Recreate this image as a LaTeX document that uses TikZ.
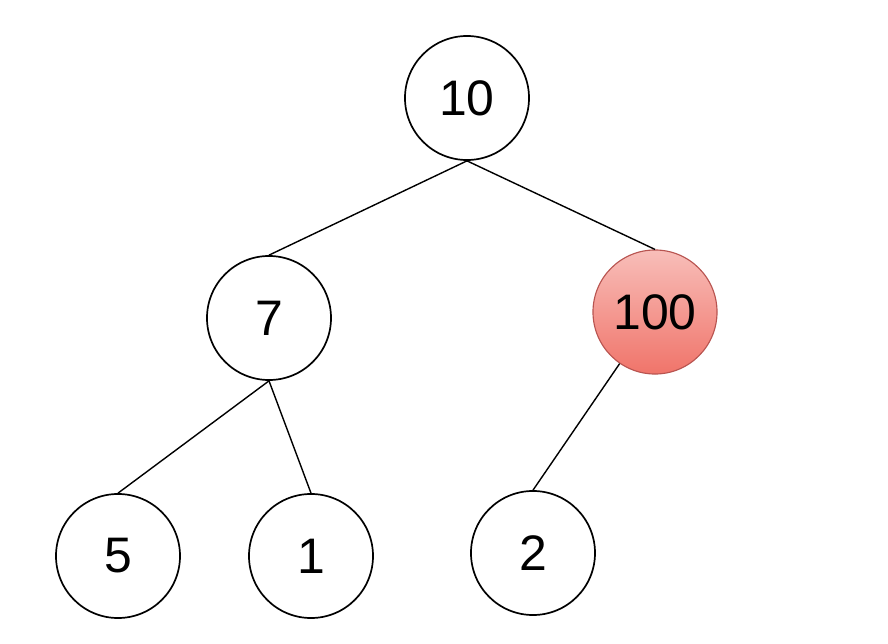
\documentclass[tikz,border=0pt]{standalone}
\usepackage{fontspec}
\setmainfont{Liberation Sans}
\usepackage{xcolor}
\usepackage{tikz}
\usetikzlibrary{positioning}

\definecolor{hottop}{RGB}{248,190,185}
\definecolor{hotbot}{RGB}{240,116,106}
\definecolor{hotline}{RGB}{184,84,80}

\begin{document}
\begin{tikzpicture}[x=0.025cm,y=-0.025cm,
    key/.style={circle,draw,line width=1.2pt,minimum size=3.1cm,inner sep=0pt,
      font=\fontsize{35.5}{40}\selectfont},
    hot/.style={key,draw=hotline,line width=0.8pt,top color=hottop,bottom color=hotbot},
    edge/.style={line width=1pt}
  ]
    \useasboundingbox (0,0) rectangle (888,644);
    \node[key] (r) at (467,98) {10};
    \node[key] (l) at (269,318) {7};
    \node[hot] (h) at (655,312) {100};
    \node[key] (ll) at (118,556) {5};
    \node[key] (lr) at (311,556) {1};
    \node[key] (hl) at (533,553) {2};
    \draw[edge] (r.south) -- (l.north);
    \draw[edge] (r.south) -- (h.north);
    \draw[edge] (l.south) -- (ll.north);
    \draw[edge] (l.south) -- (lr.north);
    \draw[edge] (h) -- (hl.north);
  \end{tikzpicture}
\end{document}
